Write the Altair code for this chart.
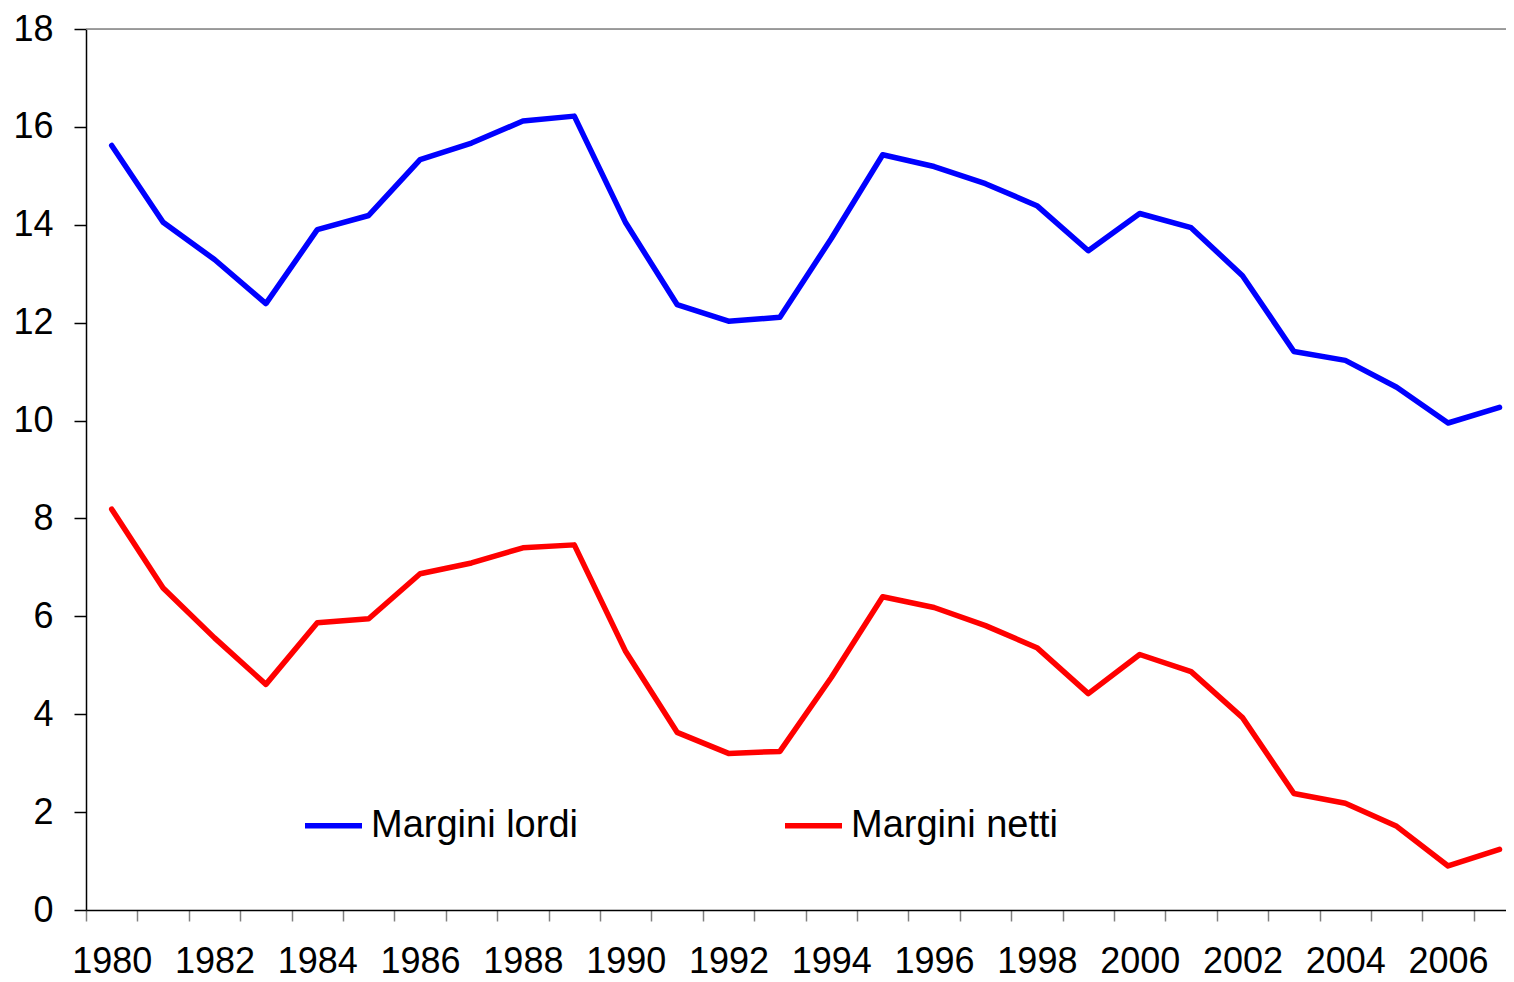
import altair as alt
import pandas as pd

years = list(range(1980, 2008))
margini_lordi = [15.62, 14.05, 13.29, 12.39, 13.90, 14.19, 15.33, 15.67, 16.12, 16.22,
                 14.04, 12.37, 12.03, 12.11, 13.72, 15.43, 15.19, 14.84, 14.39, 13.47,
                 14.23, 13.94, 12.96, 11.41, 11.23, 10.68, 9.95, 10.27]
margini_netti = [8.19, 6.58, 5.56, 4.61, 5.87, 5.95, 6.87, 7.09, 7.40, 7.46,
                 5.28, 3.63, 3.20, 3.24, 4.75, 6.40, 6.18, 5.81, 5.36, 4.42,
                 5.22, 4.87, 3.93, 2.38, 2.18, 1.71, 0.90, 1.24]
series_names = ["Margini lordi", "Margini netti"]
series_colors = ["#0000FF", "#FF0000"]
y_ticks = list(range(0, 20, 2))
top_line = [18]

rows = []
for name, vals in zip(series_names, [margini_lordi, margini_netti]):
    for yr, v in zip(years, vals):
        rows.append({"anno": yr, "valore": v, "serie": name})
df = pd.DataFrame(rows)

W = 1420
H = 881
band = 51.4
x_domain = [years[0] - 0.5, years[0] - 0.5 + W / band]
FONT = "Liberation Sans"

lines = alt.Chart(df).mark_line(strokeWidth=5.5, strokeJoin="round", strokeCap="round").encode(
    x=alt.X(
        "anno:Q",
        scale=alt.Scale(domain=x_domain, nice=False, zero=False),
        axis=alt.Axis(
            values=[y - 0.5 for y in years],
            labelExpr="(datum.value + 0.5) % 2 == 0 ? format(datum.value + 0.5, 'd') : ''",
            labelOffset=band / 2,
            tickColor="#808080",
            tickSize=11,
            tickWidth=1.5,
            domainColor="black",
            domainWidth=1.5,
            labelFontSize=36,
            labelFont=FONT,
            labelColor="black",
            labelPadding=23,
            labelFlush=False,
            labelOverlap=False,
            grid=False,
            title=None,
        ),
    ),
    y=alt.Y(
        "valore:Q",
        scale=alt.Scale(domain=[0, 18], nice=False),
        axis=alt.Axis(
            values=y_ticks,
            tickColor="black",
            tickSize=12,
            tickWidth=1.5,
            domainColor="black",
            domainWidth=1.5,
            labelFontSize=36,
            labelFont=FONT,
            labelColor="black",
            labelPadding=21,
            grid=False,
            title=None,
        ),
    ),
    color=alt.Color(
        "serie:N",
        scale=alt.Scale(domain=series_names, range=series_colors),
        legend=alt.Legend(
            title=None,
            orient="none",
            legendX=216,
            legendY=765,
            direction="horizontal",
            symbolType="stroke",
            symbolSize=57 * 57,
            symbolStrokeWidth=5.5,
            labelFontSize=38,
            labelFont=FONT,
            labelColor="black",
            labelOffset=6,
            labelLimit=500,
            columnPadding=196,
        ),
    ),
    order="anno:Q",
)

top = alt.Chart(pd.DataFrame({"v": top_line})).mark_rule(color="#808080", strokeWidth=1.5).encode(
    y=alt.Y("v:Q")
)

chart = alt.layer(top, lines).properties(
    width=W,
    height=H,
    autosize=alt.AutoSizeParams(type="none"),
    padding={"left": 78, "top": 21, "right": 0, "bottom": 70},
).configure_view(stroke=None).configure(background="white")

chart.save("out.html", embed_options={"renderer": "svg", "actions": False})
